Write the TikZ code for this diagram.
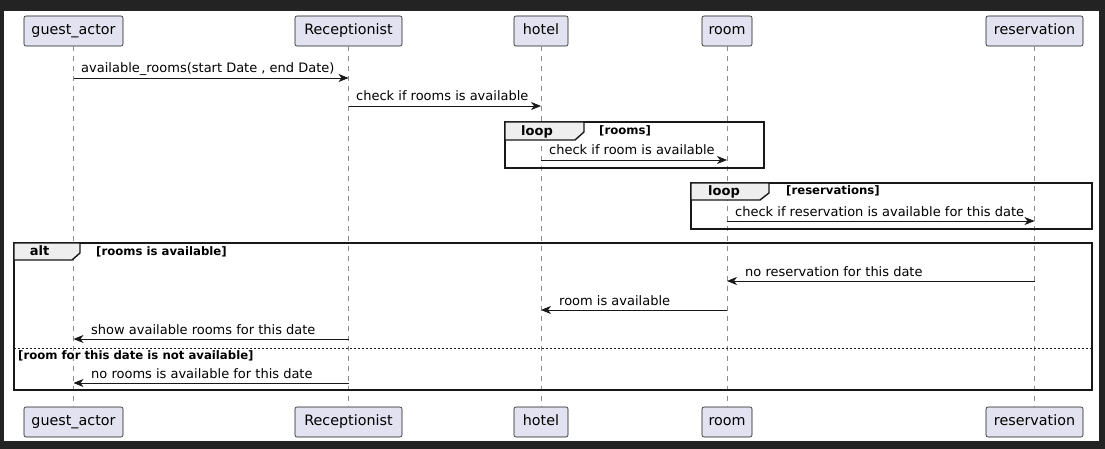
\documentclass[tikz,border=0pt]{standalone}
\usepackage{fontspec}
\setmainfont{DejaVu Sans}
\usetikzlibrary{arrows.meta}

\definecolor{partfill}{HTML}{E2E2F0}
\definecolor{tabfill}{HTML}{EEEEEE}
\definecolor{edgecol}{HTML}{181818}
\definecolor{framebg}{HTML}{232323}

\tikzset{
  participant/.style={draw=edgecol, fill=partfill, rounded corners=2pt, minimum height=30pt,
    inner xsep=5pt, text height=10.5pt, text depth=3pt, line width=0.6pt,
    font=\fontsize{14.3}{16}\selectfont},
  lifeline/.style={draw=gray!90, dash pattern=on 5pt off 5pt, line width=0.6pt},
  msg/.style={draw=edgecol, line width=0.8pt, -{Stealth[length=10pt,width=8pt,inset=3pt]}},
  msgtext/.style={anchor=base west, inner sep=0pt, font=\fontsize{13}{15}\selectfont},
  fragment/.style={draw=edgecol, line width=1.4pt},
  fragtab/.style={draw=edgecol, fill=tabfill, line width=1.4pt},
  fragname/.style={anchor=base, inner sep=0pt, font=\bfseries\fontsize{13}{15}\selectfont},
  guard/.style={anchor=base west, inner sep=0pt, font=\bfseries\fontsize{11.7}{13}\selectfont},
}

\begin{document}
\begin{tikzpicture}[x=1pt, y=-1pt]
  % Fondo oscuro y hoja blanca
  \fill[framebg] (0,0) rectangle (1105,449);
  \fill[white] (4,11) rectangle (1099,441);

  % Participantes (arriba y abajo)
  \node[participant, minimum width=99pt] (guestT) at (73.5,31) {guest\_actor};
  \node[participant, minimum width=107pt] (recepT) at (348.5,31) {Receptionist};
  \node[participant, minimum width=54pt] (hotelT) at (541,31) {hotel};
  \node[participant, minimum width=50pt] (roomT) at (727,31) {room};
  \node[participant, minimum width=97pt] (resT) at (1034.5,31) {reservation};
  \node[participant, minimum width=99pt] (guestB) at (73.5,422) {guest\_actor};
  \node[participant, minimum width=107pt] (recepB) at (348.5,422) {Receptionist};
  \node[participant, minimum width=54pt] (hotelB) at (541,422) {hotel};
  \node[participant, minimum width=50pt] (roomB) at (727,422) {room};
  \node[participant, minimum width=97pt] (resB) at (1034.5,422) {reservation};

  % Lineas de vida
  \draw[lifeline] (guestT.south) -- (guestB.north);
  \draw[lifeline] (recepT.south) -- (recepB.north);
  \draw[lifeline] (hotelT.south) -- (hotelB.north);
  \draw[lifeline] (roomT.south) -- (roomB.north);
  \draw[lifeline] (resT.south) -- (resB.north);

  % Fragmento loop [rooms]
  \draw[fragment] (505,122) rectangle (764,168);
  \draw[fragtab] (505,122) -- (584,122) -- (584,132) -- (575,140) -- (505,140) -- cycle;
  \node[fragname] (loopA) at (537,136) {loop};
  \node[guard] (loopAg) at (599,135) {[rooms]};

  % Fragmento loop [reservations]
  \draw[fragment] (691,183) rectangle (1092,229);
  \draw[fragtab] (691,183) -- (769,183) -- (769,193) -- (760,200) -- (691,200) -- cycle;
  \node[fragname] (loopB) at (724,196) {loop};
  \node[guard] (loopBg) at (786,195) {[reservations]};

  % Fragmento alt
  \draw[fragment] (14,243) rectangle (1092,390);
  \draw[fragtab] (14,243) -- (80,243) -- (80,253) -- (72,260) -- (14,260) -- cycle;
  \node[fragname] (altA) at (39.5,255) {alt};
  \node[guard] (altAg) at (96,255) {[rooms is available]};
  \draw[edgecol, line width=0.6pt, dash pattern=on 2pt off 2pt] (14,348) -- (1092,348);
  \node[guard] (altBg) at (18,359) {[room for this date is not available]};

  % Mensajes
  \draw[msg] (guestT |- 0,78) -- (recepT |- 0,78);
  \node[msgtext] (m1) at (81,73) {available\_rooms(start Date , end Date)};
  \draw[msg] (recepT |- 0,106) -- (hotelT |- 0,106);
  \node[msgtext] (m2) at (356,101) {check if rooms is available};
  \draw[msg] (hotelT |- 0,160) -- (roomT |- 0,160);
  \node[msgtext] (m3) at (549,155) {check if room is available};
  \draw[msg] (roomT |- 0,221) -- (resT |- 0,221);
  \node[msgtext] (m4) at (735,216) {check if reservation is available for this date};
  \draw[msg] (resT |- 0,281) -- (roomT |- 0,281);
  \node[msgtext] (m5) at (745,276) {no reservation for this date};
  \draw[msg] (roomT |- 0,310) -- (hotelT |- 0,310);
  \node[msgtext] (m6) at (559,305) {room is available};
  \draw[msg] (recepT |- 0,339) -- (guestT |- 0,339);
  \node[msgtext] (m7) at (91,334) {show available rooms for this date};
  \draw[msg] (recepT |- 0,383) -- (guestT |- 0,383);
  \node[msgtext] (m8) at (91,378) {no rooms is available for this date};
\end{tikzpicture}
\end{document}
